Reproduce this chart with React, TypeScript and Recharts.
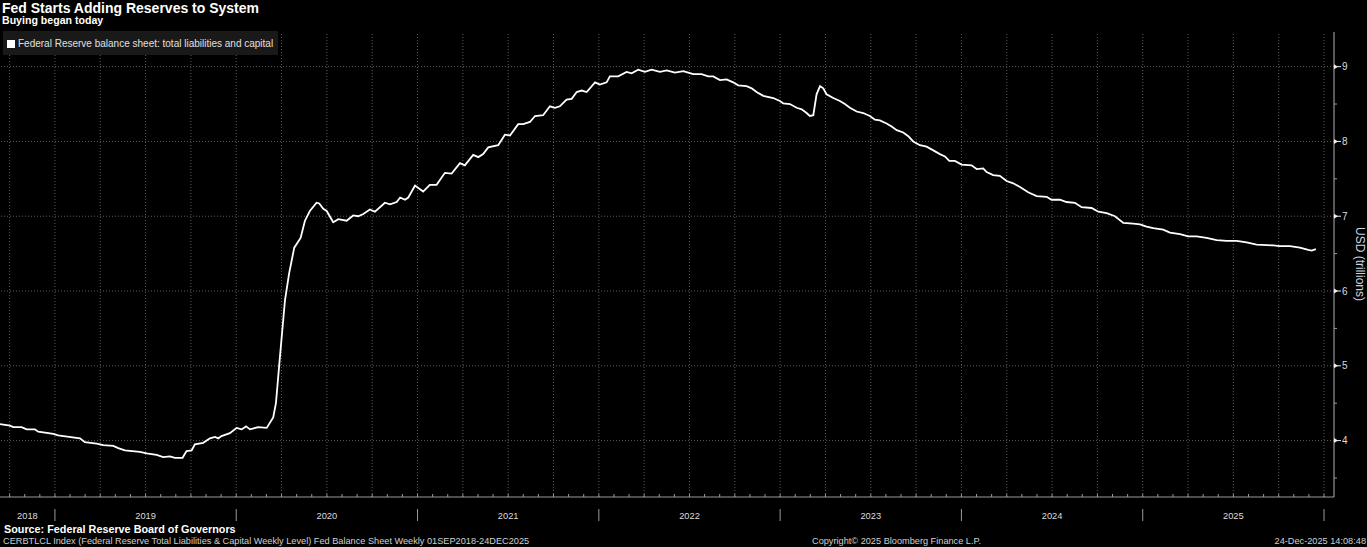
import React from 'react';
import { LineChart, Line, XAxis, YAxis, ReferenceLine } from 'recharts';

// time as decimal year, weekly-ish readings
const yearPos = [
  2018.697, 2018.752, 2018.770, 2018.816, 2018.844, 2018.890, 2018.908, 2018.991, 2019.018, 2019.138,
  2019.165, 2019.230, 2019.266, 2019.322, 2019.349, 2019.386, 2019.469, 2019.506, 2019.561, 2019.597,
  2019.634, 2019.662, 2019.704, 2019.726, 2019.754, 2019.772, 2019.818, 2019.855, 2019.883, 2019.901,
  2019.919, 2019.965, 2020.002, 2020.030, 2020.054, 2020.076, 2020.121, 2020.168, 2020.204, 2020.219,
  2020.241, 2020.269, 2020.292, 2020.320, 2020.355, 2020.379, 2020.406, 2020.443, 2020.458, 2020.480,
  2020.499, 2020.535, 2020.563, 2020.609, 2020.645, 2020.673, 2020.701, 2020.737, 2020.765, 2020.820,
  2020.848, 2020.885, 2020.904, 2020.931, 2020.949, 2020.986, 2021.031, 2021.068, 2021.105, 2021.151,
  2021.188, 2021.234, 2021.261, 2021.307, 2021.335, 2021.362, 2021.390, 2021.445, 2021.482, 2021.510,
  2021.555, 2021.583, 2021.620, 2021.648, 2021.693, 2021.730, 2021.758, 2021.785, 2021.822, 2021.850,
  2021.878, 2021.905, 2021.933, 2021.979, 2022.006, 2022.043, 2022.061, 2022.107, 2022.153, 2022.181,
  2022.217, 2022.254, 2022.291, 2022.337, 2022.374, 2022.420, 2022.466, 2022.493, 2022.521, 2022.567,
  2022.603, 2022.631, 2022.668, 2022.705, 2022.741, 2022.769, 2022.815, 2022.843, 2022.870, 2022.907,
  2022.962, 2022.999, 2023.017, 2023.054, 2023.091, 2023.119, 2023.146, 2023.164, 2023.183, 2023.201,
  2023.220, 2023.238, 2023.256, 2023.293, 2023.330, 2023.357, 2023.385, 2023.422, 2023.458, 2023.495,
  2023.523, 2023.550, 2023.587, 2023.615, 2023.643, 2023.679, 2023.707, 2023.734, 2023.771, 2023.808,
  2023.845, 2023.881, 2023.909, 2023.933, 2023.964, 2024.001, 2024.056, 2024.084, 2024.120, 2024.139,
  2024.175, 2024.212, 2024.249, 2024.286, 2024.323, 2024.368, 2024.415, 2024.470, 2024.497, 2024.543,
  2024.580, 2024.626, 2024.663, 2024.718, 2024.755, 2024.801, 2024.847, 2024.893, 2024.948, 2024.985,
  2025.021, 2025.058, 2025.113, 2025.150, 2025.205, 2025.251, 2025.297, 2025.352, 2025.408, 2025.463,
  2025.518, 2025.573, 2025.628, 2025.720, 2025.757, 2025.812, 2025.867, 2025.913, 2025.932, 2025.955,
];

// USD trillions
const balance = [
  4.22, 4.20, 4.18, 4.18, 4.15, 4.15, 4.12, 4.09, 4.07, 4.03,
  3.98, 3.96, 3.94, 3.93, 3.90, 3.87, 3.85, 3.83, 3.81, 3.78,
  3.79, 3.77, 3.77, 3.86, 3.87, 3.95, 3.97, 4.03, 4.05, 4.03,
  4.06, 4.10, 4.17, 4.15, 4.19, 4.15, 4.18, 4.17, 4.31, 4.50,
  5.12, 5.88, 6.24, 6.58, 6.71, 6.94, 7.07, 7.18, 7.17, 7.10,
  7.07, 6.92, 6.96, 6.94, 7.01, 7.00, 7.03, 7.09, 7.06, 7.18,
  7.16, 7.19, 7.25, 7.22, 7.25, 7.41, 7.33, 7.42, 7.42, 7.58,
  7.57, 7.71, 7.68, 7.82, 7.79, 7.83, 7.92, 7.95, 8.09, 8.08,
  8.23, 8.23, 8.26, 8.34, 8.35, 8.47, 8.45, 8.47, 8.56, 8.57,
  8.66, 8.68, 8.66, 8.79, 8.76, 8.79, 8.87, 8.87, 8.93, 8.91,
  8.96, 8.93, 8.96, 8.93, 8.95, 8.92, 8.94, 8.92, 8.90, 8.90,
  8.87, 8.87, 8.82, 8.83, 8.79, 8.75, 8.74, 8.71, 8.66, 8.61,
  8.58, 8.54, 8.51, 8.50, 8.45, 8.43, 8.38, 8.34, 8.35, 8.63,
  8.74, 8.71, 8.63, 8.58, 8.54, 8.50, 8.45, 8.40, 8.38, 8.34,
  8.29, 8.28, 8.24, 8.20, 8.15, 8.12, 8.07, 8.00, 7.95, 7.93,
  7.88, 7.83, 7.80, 7.74, 7.74, 7.69, 7.68, 7.63, 7.64, 7.59,
  7.55, 7.54, 7.47, 7.44, 7.39, 7.32, 7.27, 7.26, 7.22, 7.22,
  7.19, 7.18, 7.12, 7.11, 7.06, 7.04, 7.00, 6.91, 6.90, 6.89,
  6.86, 6.84, 6.82, 6.78, 6.76, 6.73, 6.73, 6.71, 6.68, 6.67,
  6.67, 6.65, 6.62, 6.61, 6.60, 6.60, 6.58, 6.55, 6.54, 6.56,
];

const yearLabels = [2018, 2019, 2020, 2021, 2022, 2023, 2024, 2025];
const yTicks = [3.5, 4, 4.5, 5, 5.5, 6, 6.5, 7, 7.5, 8, 8.5, 9];
const gridY = [4, 5, 6, 7, 8, 9];

const X_MIN = 2018.697;
const X_MAX = 2026.055;
const Y_MIN = 3.246;
const Y_MAX = 9.463;

const data = yearPos.map((t, i) => ({ t, v: balance[i] }));

const monthTicks: number[] = [];
for (let y = 2018; y <= 2026; y++) {
  for (let m = 0; m < 12; m++) {
    const t = y + m / 12;
    if (t >= X_MIN && t <= X_MAX) monthTicks.push(t);
  }
}
const isMonth = (t: number) => Math.abs(t * 12 - Math.round(t * 12)) < 1e-6;
const monthOf = (t: number) => ((Math.round(t * 12) % 12) + 12) % 12;
const quarterLines = monthTicks.filter((t) => monthOf(t) % 3 === 0);
// year label sits in the middle of the visible part of each year
const labelPos = yearLabels.map((y) => (Math.max(y, X_MIN) + Math.min(y + 1, X_MAX)) / 2);
const extraLabels = labelPos.filter((p) => !isMonth(p));
const axisTicks = [...monthTicks, ...extraLabels].sort((a, b) => a - b);

const FONT = '"Liberation Sans", Arial, sans-serif';

const yearText = (x: number, y: number, t: number) => (
  <text x={x} y={y + 21.5} textAnchor="middle" fontSize={9.3} fill="#dcdcdc" fontFamily={FONT}>
    {Math.floor(t + 1e-6)}
  </text>
);

const MonthTick = (props: any) => {
  const { x, y, payload } = props;
  const t = payload.value;
  if (!isMonth(t)) return <g>{yearText(x, y, t)}</g>;
  const m = monthOf(t);
  return (
    <g>
      <line x1={x} y1={y - 3} x2={x} y2={y} stroke="#9a9a9a" />
      {m === 0 && <line x1={x} y1={y + 12} x2={x} y2={y + 24} stroke="#9a9a9a" />}
      {m === 6 && yearText(x, y, t)}
    </g>
  );
};

const ValueTick = (props: any) => {
  const { x, y, payload } = props;
  const v = payload.value;
  if (v % 1 !== 0) {
    return <line x1={x} y1={y} x2={x + 3} y2={y} stroke="#9a9a9a" />;
  }
  return (
    <g>
      <path d={`M${x},${y - 2.5}L${x + 4},${y}L${x},${y + 2.5}Z`} fill="#eeeeee" />
      <line x1={x} y1={y} x2={x + 7} y2={y} stroke="#eeeeee" />
      <text x={x + 8} y={y} dy="0.36em" fontSize={10} fill="#dcdcdc" fontFamily={FONT}>
        {v}
      </text>
    </g>
  );
};

const txt = (extra: React.CSSProperties): React.CSSProperties => ({
  position: 'absolute',
  fontFamily: FONT,
  whiteSpace: 'nowrap',
  margin: 0,
  ...extra,
});

const App = () => {
  return (
    <div style={{ position: 'absolute', left: 0, top: 0, width: 1367, height: 547, background: '#000', overflow: 'hidden' }}>
      <LineChart width={1367} height={547} data={data} margin={{ top: 32, right: 0, left: 0, bottom: 24 }}>
        {quarterLines.map((q) => (
          <ReferenceLine key={'q' + q} x={q} stroke="#5a5a5a" strokeDasharray="1 2" />
        ))}
        {gridY.map((g) => (
          <ReferenceLine key={'g' + g} y={g} stroke="#5a5a5a" strokeDasharray="1 2" />
        ))}
        <XAxis
          dataKey="t"
          type="number"
          domain={[X_MIN, X_MAX]}
          allowDataOverflow
          ticks={axisTicks}
          interval={0}
          tickSize={0}
          tickMargin={0}
          tickLine={false}
          axisLine={{ stroke: '#9a9a9a' }}
          tick={<MonthTick />}
          height={26}
        />
        <YAxis
          orientation="right"
          type="number"
          domain={[Y_MIN, Y_MAX]}
          allowDataOverflow
          ticks={yTicks}
          interval={0}
          tickSize={0}
          tickMargin={0}
          tickLine={false}
          axisLine={{ stroke: '#b0b0b0' }}
          tick={<ValueTick />}
          width={33}
        />
        <Line
          type="linear"
          dataKey="v"
          stroke="#ffffff"
          strokeWidth={1.8}
          dot={false}
          isAnimationActive={false}
        />
      </LineChart>

      <div style={txt({ left: 2, top: 1, fontSize: 14, lineHeight: '14px', fontWeight: 'bold', color: '#fff' })}>
        Fed Starts Adding Reserves to System
      </div>
      <div style={txt({ left: 2, top: 15, fontSize: 10.6, lineHeight: '10.6px', fontWeight: 'bold', color: '#fff' })}>
        Buying began today
      </div>

      <div style={txt({ left: 3, top: 31, width: 275, height: 24, background: '#191919' })}>
        <div style={{ position: 'absolute', left: 4, top: 9, width: 8, height: 8, background: '#fff' }} />
        <div style={txt({ left: 15, top: 8, fontSize: 10, lineHeight: '10px', color: '#e0e0e0' })}>
          Federal Reserve balance sheet: total liabilities and capital
        </div>
      </div>

      <div
        style={txt({
          left: 1360,
          top: 264,
          fontSize: 12,
          lineHeight: '12px',
          color: '#cdd5e0',
          transform: 'translate(-50%, -50%) rotate(90deg)',
        })}
      >
        USD (trillions)
      </div>

      <div style={txt({ left: 4, top: 523.6, fontSize: 10.8, lineHeight: '10.8px', fontWeight: 'bold', color: '#fff' })}>
        Source: Federal Reserve Board of Governors
      </div>
      <div style={txt({ left: 3, top: 537.2, fontSize: 9.2, lineHeight: '9.2px', color: '#d0d0d0' })}>
        CERBTLCL Index (Federal Reserve Total Liabilities &amp; Capital Weekly Level) Fed Balance Sheet Weekly 01SEP2018-24DEC2025
      </div>
      <div style={txt({ left: 812, top: 537.2, fontSize: 9.2, lineHeight: '9.2px', color: '#d0d0d0' })}>
        Copyright© 2025 Bloomberg Finance L.P.
      </div>
      <div style={txt({ right: 1, top: 537.2, fontSize: 9.2, lineHeight: '9.2px', color: '#d0d0d0' })}>
        24-Dec-2025 14:08:48
      </div>
    </div>
  );
};

export default App;
